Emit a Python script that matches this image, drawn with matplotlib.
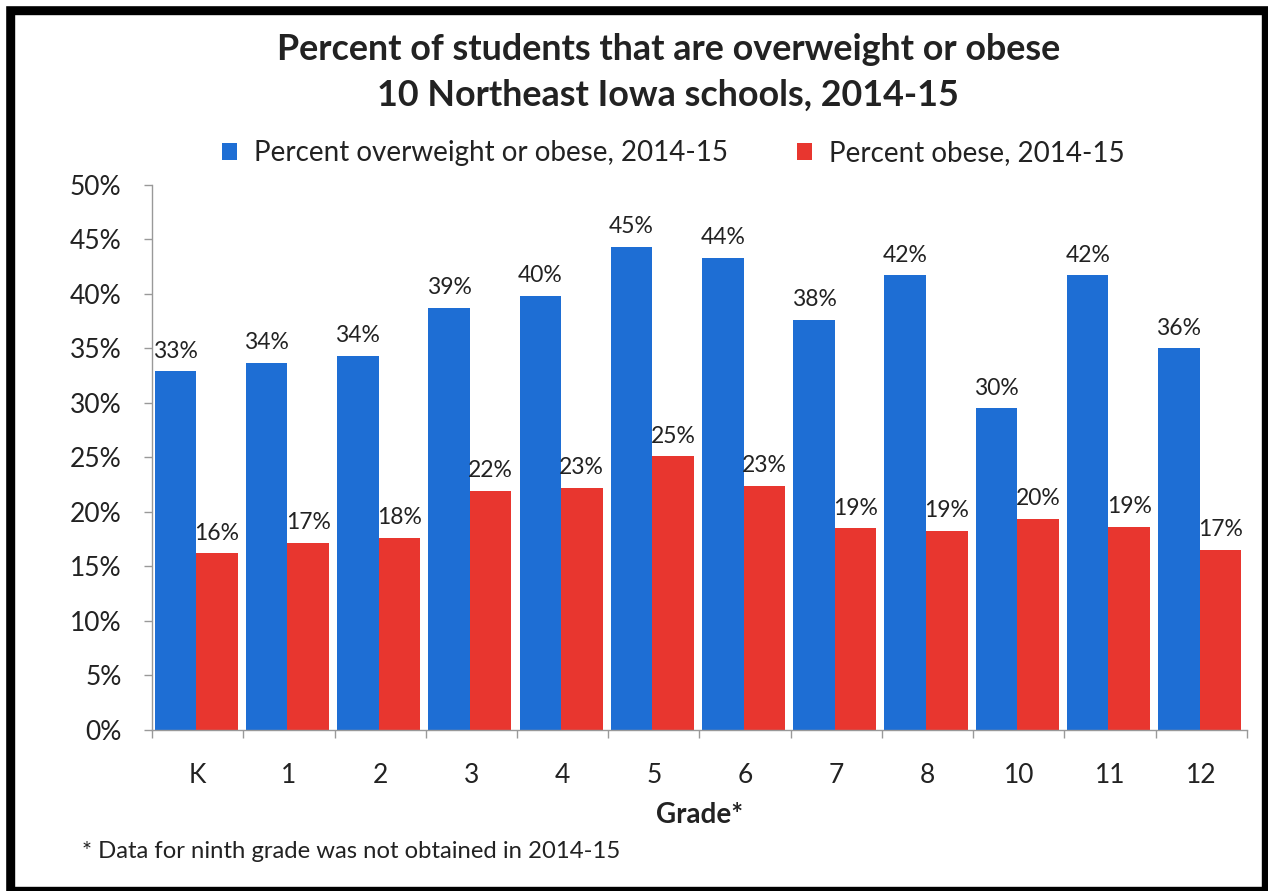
import numpy as np
import matplotlib
matplotlib.use('Agg')
import matplotlib.pyplot as plt
from matplotlib.patches import Rectangle
from matplotlib.ticker import FixedLocator

plt.rcParams['font.family'] = ['Lato', 'DejaVu Sans']

grades = ['K', '1', '2', '3', '4', '5', '6', '7', '8', '10', '11', '12']
overweight = [32.9, 33.7, 34.3, 38.7, 39.8, 44.3, 43.3, 37.6, 41.7, 29.5, 41.7, 35.0]
obese = [16.2, 17.2, 17.6, 21.9, 22.2, 25.1, 22.4, 18.5, 18.3, 19.4, 18.6, 16.5]
overweight_lbl = ['33%', '34%', '34%', '39%', '40%', '45%', '44%', '38%', '42%', '30%', '42%', '36%']
obese_lbl = ['16%', '17%', '18%', '22%', '23%', '25%', '23%', '19%', '19%', '20%', '19%', '17%']
yticks = [0, 5, 10, 15, 20, 25, 30, 35, 40, 45, 50]

blue = '#1E6ED4'
red = '#E8362F'
txt = '#222222'

fig = plt.figure(figsize=(12.68, 8.91), dpi=100)
ax = fig.add_axes([0.1199, 0.1807, 0.8635, 0.6117])

x = np.arange(len(grades))
w = 0.455
b1 = ax.bar(x - 0.245, overweight, w, color=blue, label='Percent overweight or obese, 2014-15')
b2 = ax.bar(x + 0.21, obese, w, color=red, label='Percent obese, 2014-15')

for i in range(len(grades)):
    ax.text(x[i] - 0.245, overweight[i] + 0.9, overweight_lbl[i], ha='center', va='bottom',
            fontsize=16.5, color=txt)
    ax.text(x[i] + 0.21, obese[i] + 0.9, obese_lbl[i], ha='center', va='bottom',
            fontsize=16.5, color=txt)

ax.set_xlim(-0.5, len(grades) - 0.5)
ax.set_ylim(0, 50)
ax.set_yticks(yticks)
ax.set_yticklabels(['%d%%' % v for v in yticks], fontsize=19, color=txt)
ax.set_xticks(x)
ax.set_xticklabels(grades, fontsize=19, color=txt)
ax.xaxis.set_minor_locator(FixedLocator(np.arange(-0.5, len(grades), 1.0)))
ax.tick_params(axis='x', which='major', length=0, pad=24)
ax.tick_params(axis='x', which='minor', length=6, color='#999999', width=1)
ax.tick_params(axis='y', length=6, color='#999999', width=1, pad=16)

for s in ['top', 'right']:
    ax.spines[s].set_visible(False)
for s in ['left', 'bottom']:
    ax.spines[s].set_color('#999999')
    ax.spines[s].set_linewidth(1)

ax.set_xlabel('Grade*', fontsize=20, fontweight='bold', color=txt, labelpad=10)

fig.text(0.527, 0.945, 'Percent of students that are overweight or obese',
         ha='center', va='center', fontsize=25.8, fontweight='bold', color=txt)
fig.text(0.527, 0.893, '10 Northeast Iowa schools, 2014-15',
         ha='center', va='center', fontsize=25.8, fontweight='bold', color=txt)

fig.legend(handles=[b1, b2], loc='center', bbox_to_anchor=(0.531, 0.828), ncol=2,
           frameon=False, fontsize=20, handlelength=0.55, handleheight=0.55,
           handletextpad=0.6, columnspacing=2.5, labelcolor=txt)

fig.text(0.065, 0.044, '* Data for ninth grade was not obtained in 2014-15',
         ha='left', va='center', fontsize=17.2, color=txt)

# black frame round the picture
W, H = 1268.0, 891.0
fig.patches.append(Rectangle((5 / W, 0), 9 / W, 1, transform=fig.transFigure, color='black'))
fig.patches.append(Rectangle((0, 1 - 14 / H), 1, 9 / H, transform=fig.transFigure, color='black'))
fig.patches.append(Rectangle((1262 / W, 0), 6 / W, 1, transform=fig.transFigure, color='black'))
fig.patches.append(Rectangle((0, 0), 1, 4 / H, transform=fig.transFigure, color='black'))
fig.patches.append(Rectangle((0, 0), 5 / W, 1, transform=fig.transFigure, color='white'))
fig.patches.append(Rectangle((0, 1 - 5 / H), 1, 5 / H, transform=fig.transFigure, color='white'))

plt.savefig('out.png', dpi=100)
